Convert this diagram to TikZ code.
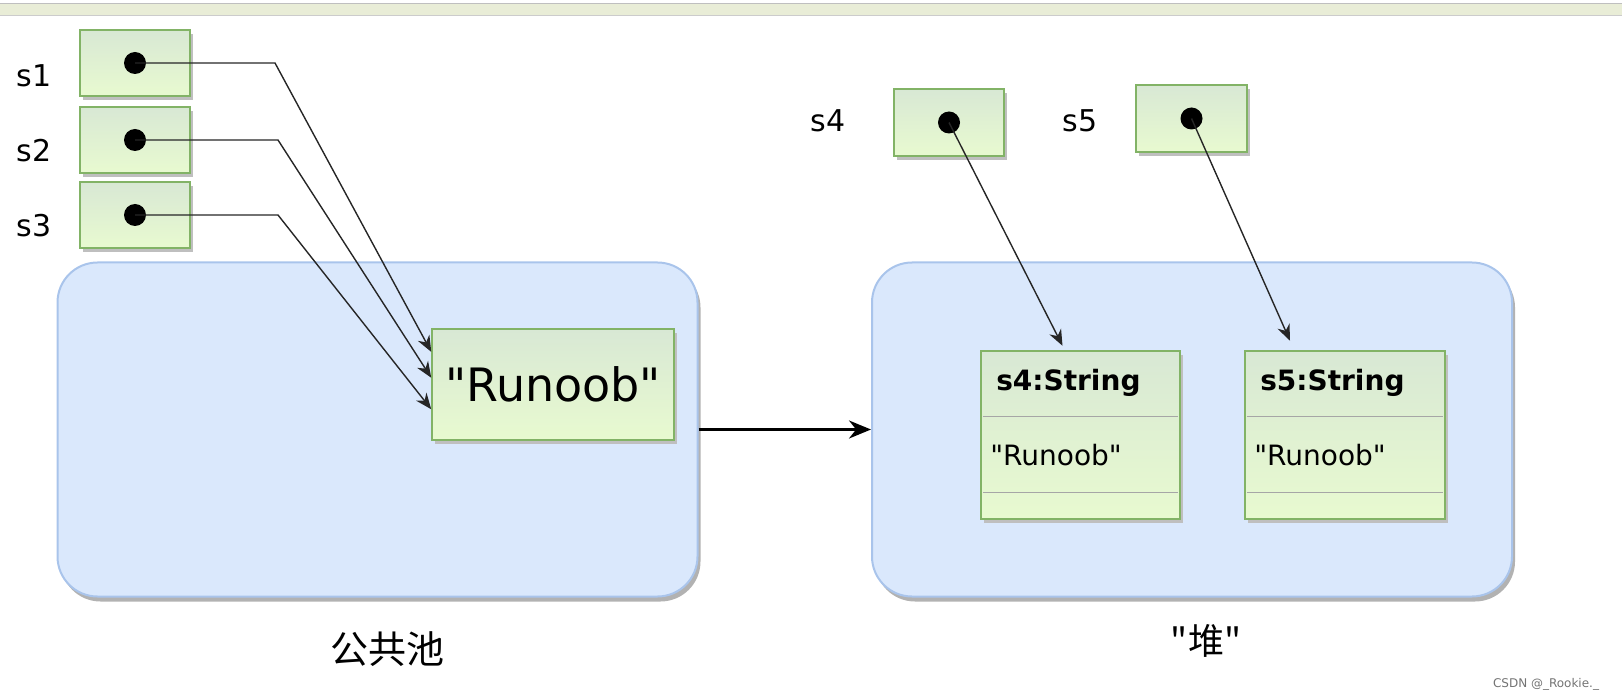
\documentclass[tikz,border=0pt]{standalone}
\usepackage{fontspec}
\setmainfont{DejaVu Sans}
\newfontfamily\qfont{DejaVu Sans}
\newfontfamily\cjk{Noto Sans CJK SC}
\usetikzlibrary{arrows.meta, shadows, calc, positioning}

\definecolor{cellline}{RGB}{130,179,102}
\definecolor{celltop}{RGB}{216,232,212}
\definecolor{cellbot}{RGB}{232,250,208}
\definecolor{poolfill}{RGB}{218,232,252}
\definecolor{poolline}{RGB}{169,196,235}
\definecolor{barfill}{RGB}{233,237,215}

\newcommand\qt{{\qfont"}}

\tikzset{
  cell/.style={draw=cellline, line width=1.5pt, top color=celltop, bottom color=cellbot,
    minimum width=110pt, minimum height=66pt, inner sep=0pt,
    drop shadow={shadow xshift=3pt, shadow yshift=-4pt, fill=black!25, opacity=1}},
  pool/.style={draw=poolline, line width=2pt, fill=poolfill, rounded corners=40pt,
    minimum width=640pt, minimum height=334pt,
    drop shadow={shadow xshift=3pt, shadow yshift=-5pt, fill=black!30, opacity=1}},
  dot/.style={circle, fill=black, minimum size=22pt, inner sep=0pt},
  varname/.style={font=\fontsize{30}{34}\selectfont},
  ptr/.style={line width=1.4pt, black!85, -{Stealth[length=16pt, width=13pt]}},
  divider/.style={line width=1pt, black!35}
}

\begin{document}
\begin{tikzpicture}[x=1pt, y=-1pt]
  \useasboundingbox (0,0) rectangle (1622,700);

  % top bar
  \fill[barfill] (0,4) rectangle (1622,16);
  \draw[black!25, line width=1pt] (0,4) -- (1622,4);
  \draw[black!20, line width=1pt] (0,16) -- (1622,16);

  % pools
  \node[pool] (pool) at (377.5,429.5) {};
  \node[pool] (heap) at (1192,429.5) {};
  \draw[line width=2.5pt, -{Stealth[length=22pt, width=18pt]}] (pool.east) -- (heap.west);

  % the literal in the pool
  \node[cell, minimum width=242pt, minimum height=111pt,
        font=\fontsize{46}{50}\selectfont] (rn) at (553,384.5) {\qt Runoob\qt};

  % s1, s2, s3
  \node[cell] (b1) at (135,63) {};
  \node[cell] (b2) at (135,140) {};
  \node[cell] (b3) at (135,215) {};
  \node[varname] (ls1) at (34,76) {s1};
  \node[varname] (ls2) at (34,151) {s2};
  \node[varname] (ls3) at (34,226) {s3};
  \node[dot] (d1) at (b1) {};
  \node[dot] (d2) at (b2) {};
  \node[dot] (d3) at (b3) {};

  \draw[ptr] (d1.center) -- ++(140,0) -- ($(rn.north west)!0.21!(rn.south west)$);
  \draw[ptr] (d2.center) -- ++(143,0) -- ($(rn.north west)!0.44!(rn.south west)$);
  \draw[ptr] (d3.center) -- ++(143,0) -- ($(rn.north west)!0.72!(rn.south west)$);

  % s4, s5
  \node[cell, minimum height=67pt] (b4) at (949,122.5) {};
  \node[cell, minimum height=67pt, minimum width=111pt] (b5) at (1191.5,118.5) {};
  \node[varname] (ls4) at (828,121) {s4};
  \node[varname] (ls5) at (1080,121) {s5};
  \node[dot] (d4) at (b4) {};
  \node[dot] (d5) at (b5) {};

  % objects on the heap
  \node[cell, line width=2.5pt, minimum width=199pt, minimum height=168pt] (c4) at (1080.5,435) {};
  \node[cell, line width=2.5pt, minimum width=200pt, minimum height=168pt] (c5) at (1345,435) {};
  \foreach \c/\n in {c4/s4, c5/s5} {
    \draw[divider] ($(\c.north west)+(3,67)$) -- ($(\c.north east)+(-3,67)$);
    \draw[divider] ($(\c.north west)+(3,143)$) -- ($(\c.north east)+(-3,143)$);
    \node[anchor=west, font=\bfseries\fontsize{28}{32}\selectfont] (\c name) at ($(\c.north west)+(13,33)$) {\n:String};
    \node[anchor=west, font=\fontsize{28}{32}\selectfont] (\c val) at ($(\c.north west)+(7,105)$) {\qt Runoob\qt};
  }

  \draw[ptr] (d4.center) -- ([xshift=-18pt, yshift=4pt]c4.north);
  \draw[ptr] (d5.center) -- ([xshift=-55pt, yshift=9pt]c5.north);

  % captions
  \node[font=\cjk\fontsize{38}{42}\selectfont] (cap1) at (387,649) {公共池};
  \node[font=\cjk\fontsize{36}{40}\selectfont] (cap2) at (1206,641) {"堆"};
  \node[font=\fontsize{12}{14}\selectfont, black!55] (mark) at (1546,684) {CSDN @\_Rookie.\_};
\end{tikzpicture}
\end{document}
